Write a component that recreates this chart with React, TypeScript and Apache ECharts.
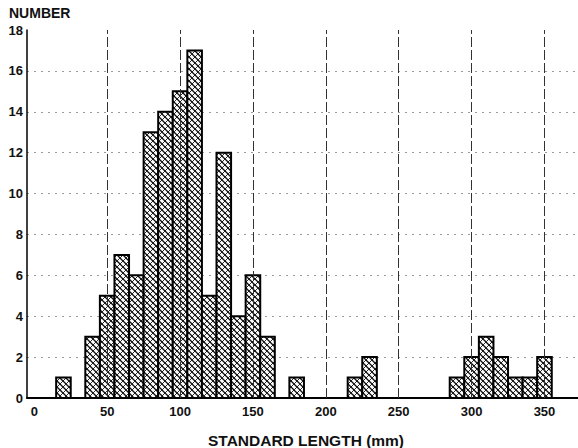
import React, { useEffect, useRef } from "react";
import * as echarts from "echarts";

// Bin centres (mm, 10 mm wide bins) and number of fish in each non-empty bin
const binCenters = [20, 40, 50, 60, 70, 80, 90, 100, 110, 120, 130, 140, 150, 160, 180, 220, 230, 290, 300, 310, 320, 330, 340, 350];
const counts = [1, 3, 5, 7, 6, 13, 14, 15, 17, 5, 12, 4, 6, 3, 1, 1, 2, 1, 2, 3, 2, 1, 1, 2];
const binWidth = 10;

const xTicks = [0, 50, 100, 150, 200, 250, 300, 350];
const xGridLines = [50, 100, 150, 200, 250, 300, 350];

function makeHatch(): HTMLCanvasElement {
  const s = 6;
  const c = document.createElement("canvas");
  c.width = s;
  c.height = s;
  const ctx = c.getContext("2d")!;
  ctx.fillStyle = "#ffffff";
  ctx.fillRect(0, 0, s, s);
  ctx.strokeStyle = "#111";
  for (const k of [-s, 0, s]) {
    ctx.lineWidth = 1.3;
    ctx.beginPath();
    ctx.moveTo(k, 0);
    ctx.lineTo(k + s, s);
    ctx.stroke();
    ctx.lineWidth = 0.9;
    ctx.beginPath();
    ctx.moveTo(k + s, 0);
    ctx.lineTo(k, s);
    ctx.stroke();
  }
  return c;
}

export default function App() {
  const ref = useRef<HTMLDivElement>(null);
  useEffect(() => {
    if (!ref.current) return;
    const chart = echarts.init(ref.current, null, { renderer: "svg" });
    const hatch = { image: makeHatch(), repeat: "repeat" };
    const font = "'Liberation Sans', Arial, sans-serif";
    const data = binCenters.map((x, i) => [x, counts[i]]);
    const hColors = ["transparent", "#9a9a9a", "#9a9a9a", "#9a9a9a", "#9a9a9a", "#9a9a9a", "#9a9a9a", "#9a9a9a", "#9a9a9a", "transparent"];
    chart.setOption({
      animation: false,
      backgroundColor: "#ffffff",
      grid: { left: 27, top: 30, right: 0, bottom: 50 },
      xAxis: {
        type: "value",
        min: -5,
        max: 373,
        axisLine: { show: true, onZero: false, lineStyle: { color: "#000", width: 2 } },
        axisTick: { show: false },
        splitLine: { show: false },
        axisLabel: {
          customValues: xTicks,
          margin: 7,
          color: "#111",
          fontFamily: font,
          fontSize: 13,
          fontWeight: "bold",
        },
      },
      yAxis: {
        type: "value",
        min: 0,
        max: 18,
        interval: 2,
        axisLine: { show: true, onZero: false, lineStyle: { color: "#000", width: 1.5 } },
        axisTick: { show: false },
        axisLabel: {
          margin: 4,
          color: "#111",
          fontFamily: font,
          fontSize: 13,
          fontWeight: "bold",
        },
        splitLine: {
          show: true,
          lineStyle: { color: hColors, type: [2, 5], width: 1 },
        },
      },
      graphic: [
        {
          type: "text",
          left: 9,
          top: 6,
          style: { text: "NUMBER", fontFamily: font, fontSize: 14, fontWeight: "bold", fill: "#111" },
        },
        {
          type: "text",
          x: 306,
          y: 440,
          style: {
            text: "STANDARD LENGTH (mm)",
            fontFamily: font,
            fontSize: 15.5,
            fontWeight: "bold",
            fill: "#111",
            align: "center",
            verticalAlign: "middle",
          },
        },
      ],
      series: [
        {
          type: "line",
          data: [],
          z: 1,
          markLine: {
            silent: true,
            symbol: "none",
            label: { show: false },
            lineStyle: { color: "#333", type: [10, 3], width: 1 },
            data: xGridLines.map((v) => ({ xAxis: v })),
          },
        },
        {
          type: "custom",
          z: 3,
          data,
          renderItem: (params: any, api: any) => {
            const x = api.value(0);
            const y = api.value(1);
            const p0 = api.coord([x - binWidth / 2, y]);
            const p1 = api.coord([x + binWidth / 2, 0]);
            return {
              type: "rect",
              shape: { x: p0[0], y: p0[1], width: p1[0] - p0[0], height: p1[1] - p0[1] },
              style: { fill: hatch, stroke: "#000", lineWidth: 2 },
            };
          },
        },
      ],
    });
    return () => chart.dispose();
  }, []);
  return <div ref={ref} style={{ position: "fixed", left: 0, top: 0, width: 578, height: 448 }} />;
}
